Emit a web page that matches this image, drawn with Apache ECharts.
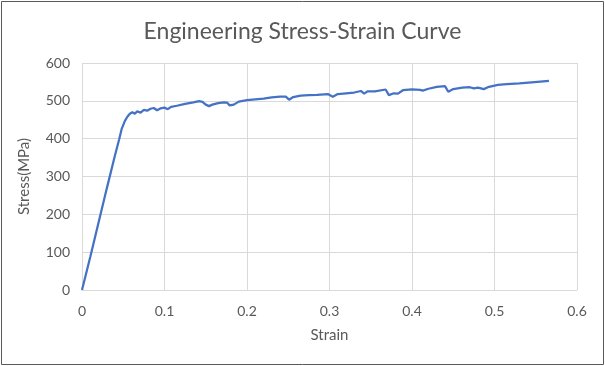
<!DOCTYPE html>
<html>
<head>
<meta charset="utf-8">
<script src="https://cdn.jsdelivr.net/npm/echarts@6/dist/echarts.min.js"></script>
<style>
html,body{margin:0;padding:0;background:#fff;}
#c{width:605px;height:366px;}
</style>
</head>
<body>
<div id="c"></div>
<script>
const titleText = "Engineering Stress-Strain Curve";
const xAxisName = "Strain";
const yAxisName = "Stress(MPa)";
const xTicks = [0, 0.1, 0.2, 0.3, 0.4, 0.5, 0.6];
const yTicks = [0, 100, 200, 300, 400, 500, 600];

const strain = [0, 0.01, 0.02, 0.03, 0.04, 0.045, 0.048, 0.052, 0.055, 0.058, 0.061, 0.064, 0.067, 0.071, 0.075, 0.079, 0.083, 0.087, 0.091, 0.095, 0.1, 0.104, 0.108, 0.115, 0.125, 0.135, 0.142, 0.146, 0.15, 0.154, 0.158, 0.165, 0.172, 0.176, 0.179, 0.184, 0.19, 0.2, 0.21, 0.22, 0.23, 0.24, 0.247, 0.251, 0.256, 0.265, 0.275, 0.285, 0.298, 0.304, 0.31, 0.32, 0.33, 0.338, 0.342, 0.346, 0.355, 0.368, 0.372, 0.378, 0.383, 0.389, 0.4, 0.41, 0.413, 0.42, 0.43, 0.44, 0.444, 0.45, 0.461, 0.47, 0.475, 0.48, 0.487, 0.492, 0.504, 0.515, 0.53, 0.545, 0.566];
const stress = [0, 87, 178, 268, 356, 398, 425, 447, 458, 466, 470, 466, 472, 469, 476, 474, 479, 481, 475, 480, 482, 478, 484, 487, 492, 496, 499, 497, 490, 486, 490, 494, 496, 495, 488, 490, 498, 502, 504, 506, 509, 511, 511, 503, 510, 514, 515, 516, 518, 511, 518, 520, 522, 526, 519, 525, 525, 530, 515, 520, 519, 528, 530, 529, 527, 532, 537, 539, 524, 531, 535, 536, 533, 535, 531, 536, 542, 544, 546, 549, 553];

const data = strain.map((s, i) => [s, stress[i]]);

const chart = echarts.init(document.getElementById('c'));
const font = 'Lato, "Open Sans", sans-serif';
chart.setOption({
  animation: false,
  backgroundColor: '#fff',
  title: {
    text: titleText,
    left: 'center',
    top: 15,
    textStyle: {fontFamily: font, fontSize: 23, fontWeight: 'normal', color: '#595959'}
  },
  grid: {left: 82, right: 28, top: 63, bottom: 76, containLabel: false},
  xAxis: {
    type: 'value',
    min: xTicks[0], max: xTicks[xTicks.length - 1], interval: 0.1,
    name: xAxisName, nameLocation: 'middle', nameGap: 38,
    nameTextStyle: {fontFamily: font, fontSize: 15, color: '#595959'},
    axisLine: {show: true, lineStyle: {color: '#d9d9d9', width: 1}},
    axisTick: {show: false},
    axisLabel: {fontFamily: font, fontSize: 14, color: '#595959', margin: 14},
    splitLine: {show: true, lineStyle: {color: '#d9d9d9', width: 1}}
  },
  yAxis: {
    type: 'value',
    min: yTicks[0], max: yTicks[yTicks.length - 1], interval: 100,
    name: yAxisName, nameLocation: 'middle', nameGap: 50, nameRotate: 90,
    nameTextStyle: {fontFamily: font, fontSize: 15, color: '#595959'},
    axisLine: {show: false},
    axisTick: {show: false},
    axisLabel: {fontFamily: font, fontSize: 14, color: '#595959', margin: 12},
    splitLine: {show: true, lineStyle: {color: '#d9d9d9', width: 1}}
  },
  graphic: [{
    type: 'rect', silent: true, z: 100,
    shape: {x: 1.5, y: 1.5, width: 602, height: 363},
    style: {fill: 'none', stroke: '#595959', lineWidth: 1}
  }],
  series: [{
    type: 'line',
    data: data,
    showSymbol: false,
    smooth: false,
    lineStyle: {color: '#4472C4', width: 2.25},
    itemStyle: {color: '#4472C4'}
  }]
});
</script>
</body>
</html>
